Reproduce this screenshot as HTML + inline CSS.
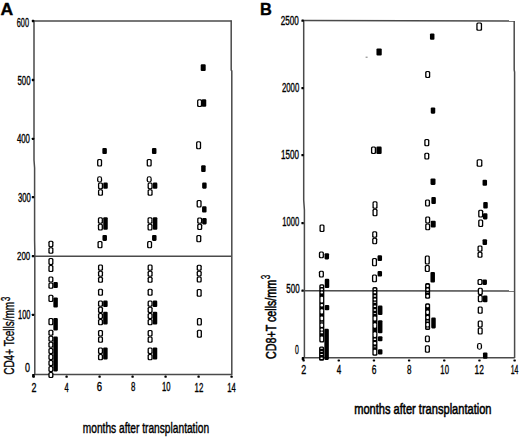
<!DOCTYPE html>
<html><head><meta charset="utf-8"><style>
html,body{margin:0;padding:0;background:#fff;}
body{width:520px;height:439px;overflow:hidden;}
svg{display:block;}
text{font-family:"Liberation Sans",sans-serif;}
</style></head><body>
<svg width="520" height="439" viewBox="0 0 520 439" font-family="Liberation Sans, sans-serif">
<rect x="0" y="0" width="520" height="439" fill="#fff"/>
<g stroke="#4a4a4a" stroke-width="1.5" fill="none">
<line x1="33.4" y1="21.0" x2="231.8" y2="21.0"/>
<polyline points="34.0,20.4 34.0,160 34.6,168 34.6,240 34.8,250 34.8,375"/>
<line x1="34" y1="374.4" x2="231.8" y2="374.4"/>
<polyline points="231.2,20.4 231.2,70 231.8,71 231.8,375"/>
<line x1="34" y1="256.2" x2="231.6" y2="256.2"/>
</g>
<rect x="31.80" y="19.85" width="2.4" height="2.3" rx="0.6" fill="#000"/>
<rect x="31.80" y="78.85" width="2.4" height="2.3" rx="0.6" fill="#000"/>
<rect x="31.80" y="137.65" width="2.4" height="2.3" rx="0.6" fill="#000"/>
<rect x="31.80" y="196.05" width="2.4" height="2.3" rx="0.6" fill="#000"/>
<rect x="31.80" y="255.05" width="2.4" height="2.3" rx="0.6" fill="#000"/>
<rect x="31.80" y="313.65" width="2.4" height="2.3" rx="0.6" fill="#000"/>
<rect x="32.10" y="374.00" width="2.6" height="3.2" rx="0.6" fill="#000"/>
<rect x="32.50" y="375.60" width="2.2" height="2.2" rx="0.6" fill="#000"/>
<rect x="65.50" y="375.60" width="2.2" height="2.2" rx="0.6" fill="#000"/>
<rect x="98.50" y="375.60" width="2.2" height="2.2" rx="0.6" fill="#000"/>
<rect x="131.50" y="375.60" width="2.2" height="2.2" rx="0.6" fill="#000"/>
<rect x="164.50" y="375.60" width="2.2" height="2.2" rx="0.6" fill="#000"/>
<rect x="197.50" y="375.60" width="2.2" height="2.2" rx="0.6" fill="#000"/>
<rect x="230.50" y="375.60" width="2.2" height="2.2" rx="0.6" fill="#000"/>
<g stroke="#4a4a4a" stroke-width="1.5" fill="none">
<line x1="302.5" y1="20.4" x2="514.6" y2="21.0"/>
<polyline points="303.7,20.4 303.7,200 304.4,210 304.4,358"/>
<line x1="303.5" y1="357.8" x2="514.8" y2="357.8"/>
<polyline points="514.2,21 514.2,70 514.6,72 514.6,358"/>
<line x1="304" y1="290.7" x2="514.4" y2="290.9"/>
</g>
<rect x="301.40" y="19.45" width="2.4" height="2.3" rx="0.6" fill="#000"/>
<rect x="301.40" y="86.95" width="2.4" height="2.3" rx="0.6" fill="#000"/>
<rect x="301.40" y="153.95" width="2.4" height="2.3" rx="0.6" fill="#000"/>
<rect x="301.40" y="221.95" width="2.4" height="2.3" rx="0.6" fill="#000"/>
<rect x="301.40" y="289.45" width="2.4" height="2.3" rx="0.6" fill="#000"/>
<rect x="301.70" y="357.10" width="2.6" height="3.0" rx="0.6" fill="#000"/>
<rect x="302.40" y="359.60" width="2.4" height="1.8" rx="0.6" fill="#000"/>
<rect x="337.57" y="359.60" width="2.4" height="1.8" rx="0.6" fill="#000"/>
<rect x="372.74" y="359.60" width="2.4" height="1.8" rx="0.6" fill="#000"/>
<rect x="407.91" y="359.60" width="2.4" height="1.8" rx="0.6" fill="#000"/>
<rect x="443.08" y="359.60" width="2.4" height="1.8" rx="0.6" fill="#000"/>
<rect x="478.25" y="359.60" width="2.4" height="1.8" rx="0.6" fill="#000"/>
<rect x="513.42" y="359.60" width="2.4" height="1.8" rx="0.6" fill="#000"/>
<g font-family="Liberation Sans, sans-serif" fill="#000">
<text transform="translate(0.47,14.86) scale(1.077,1)" font-size="16.32" font-weight="bold" stroke="#000" stroke-width="0.35">A</text>
<text transform="translate(259.95,14.90) scale(1.028,1)" font-size="15.94" font-weight="bold" stroke="#000" stroke-width="0.35">B</text>
<text transform="translate(16.78,26.53) scale(0.606,1)" font-size="12.11" font-weight="normal" stroke="#000" stroke-width="0.35">600</text>
<text transform="translate(17.44,84.93) scale(0.642,1)" font-size="12.25" font-weight="normal" stroke="#000" stroke-width="0.35">500</text>
<text transform="translate(16.89,143.23) scale(0.654,1)" font-size="11.97" font-weight="normal" stroke="#000" stroke-width="0.35">400</text>
<text transform="translate(17.94,201.53) scale(0.646,1)" font-size="11.97" font-weight="normal" stroke="#000" stroke-width="0.35">300</text>
<text transform="translate(17.05,260.03) scale(0.669,1)" font-size="11.83" font-weight="normal" stroke="#000" stroke-width="0.35">200</text>
<text transform="translate(18.05,318.63) scale(0.618,1)" font-size="12.11" font-weight="normal" stroke="#000" stroke-width="0.35">100</text>
<text transform="translate(24.99,371.63) scale(0.731,1)" font-size="12.25" font-weight="normal" stroke="#000" stroke-width="0.35">0</text>
<text transform="translate(31.50,391.55) scale(0.734,1)" font-size="12.14" font-weight="normal" stroke="#000" stroke-width="0.35">2</text>
<text transform="translate(64.50,391.68) scale(0.604,1)" font-size="12.50" font-weight="normal" stroke="#000" stroke-width="0.35">4</text>
<text transform="translate(96.87,391.43) scale(0.799,1)" font-size="11.97" font-weight="normal" stroke="#000" stroke-width="0.35">6</text>
<text transform="translate(131.04,391.43) scale(0.658,1)" font-size="11.97" font-weight="normal" stroke="#000" stroke-width="0.35">8</text>
<text transform="translate(162.04,391.43) scale(0.641,1)" font-size="11.97" font-weight="normal" stroke="#000" stroke-width="0.35">10</text>
<text transform="translate(194.62,391.55) scale(0.647,1)" font-size="12.14" font-weight="normal" stroke="#000" stroke-width="0.35">12</text>
<text transform="translate(227.33,391.55) scale(0.625,1)" font-size="12.32" font-weight="normal" stroke="#000" stroke-width="0.35">14</text>
<text transform="translate(280.74,24.73) scale(0.678,1)" font-size="11.97" font-weight="normal" stroke="#000" stroke-width="0.35">2500</text>
<text transform="translate(281.96,91.83) scale(0.643,1)" font-size="12.11" font-weight="normal" stroke="#000" stroke-width="0.35">2000</text>
<text transform="translate(281.00,159.13) scale(0.668,1)" font-size="12.11" font-weight="normal" stroke="#000" stroke-width="0.35">1500</text>
<text transform="translate(282.34,225.83) scale(0.629,1)" font-size="12.11" font-weight="normal" stroke="#000" stroke-width="0.35">1000</text>
<text transform="translate(286.33,292.83) scale(0.659,1)" font-size="12.11" font-weight="normal" stroke="#000" stroke-width="0.35">500</text>
<text transform="translate(295.08,354.33) scale(0.574,1)" font-size="11.97" font-weight="normal" stroke="#000" stroke-width="0.35">0</text>
<text transform="translate(301.30,373.75) scale(0.725,1)" font-size="12.29" font-weight="normal" stroke="#000" stroke-width="0.35">2</text>
<text transform="translate(336.79,373.88) scale(0.636,1)" font-size="12.65" font-weight="normal" stroke="#000" stroke-width="0.35">4</text>
<text transform="translate(371.63,373.63) scale(0.700,1)" font-size="12.11" font-weight="normal" stroke="#000" stroke-width="0.35">6</text>
<text transform="translate(407.03,373.63) scale(0.667,1)" font-size="12.11" font-weight="normal" stroke="#000" stroke-width="0.35">8</text>
<text transform="translate(440.33,373.63) scale(0.642,1)" font-size="12.11" font-weight="normal" stroke="#000" stroke-width="0.35">10</text>
<text transform="translate(474.58,373.75) scale(0.681,1)" font-size="12.29" font-weight="normal" stroke="#000" stroke-width="0.35">12</text>
<text transform="translate(510.70,373.75) scale(0.554,1)" font-size="12.46" font-weight="normal" stroke="#000" stroke-width="0.35">14</text>
<text transform="translate(82.79,433.40) scale(0.676,1)" font-size="15.07" font-weight="normal" stroke="#000" stroke-width="0.45">months after transplantation</text>
<text transform="translate(354.22,413.90) scale(0.716,1)" font-size="15.48" font-weight="normal" stroke="#000" stroke-width="0.6">months after transplantation</text>
<text transform="translate(14.47,374.85) rotate(-90) scale(0.652,1)" font-size="15.38" font-weight="normal" stroke="#000" stroke-width="0.35">CD4+ Tcells/mm</text>
<g>
<text transform="translate(9.88,300.96) rotate(-90) scale(0.615,1)" font-size="12.46" font-weight="normal" stroke="#000" stroke-width="0.35">3</text>
<text transform="translate(275.98,358.99) rotate(-90) scale(0.709,1)" font-size="15.10" font-weight="normal" stroke="#000" stroke-width="0.55">CD8+T cells/mm</text>
<text transform="translate(270.07,279.17) rotate(-90) scale(0.600,1)" font-size="13.46" font-weight="normal" stroke="#000" stroke-width="0.35">3</text>
</g>
</g>
<rect x="48.35" y="240.80" width="5.10" height="6.50" rx="1.5" fill="#000"/>
<rect x="48.35" y="247.30" width="5.10" height="6.50" rx="1.5" fill="#000"/>
<rect x="49.65" y="241.80" width="2.50" height="4.50" rx="1.00" fill="#fff"/>
<rect x="49.65" y="248.30" width="2.50" height="4.50" rx="1.00" fill="#fff"/>
<rect x="48.35" y="257.90" width="5.10" height="7.05" rx="1.5" fill="#000"/>
<rect x="48.35" y="264.95" width="5.10" height="7.05" rx="1.5" fill="#000"/>
<rect x="49.65" y="258.90" width="2.50" height="5.05" rx="1.00" fill="#fff"/>
<rect x="49.65" y="265.95" width="2.50" height="5.05" rx="1.00" fill="#fff"/>
<rect x="48.35" y="276.40" width="5.10" height="6.15" rx="1.5" fill="#000"/>
<rect x="48.35" y="282.55" width="5.10" height="6.15" rx="1.5" fill="#000"/>
<rect x="49.65" y="277.40" width="2.50" height="4.15" rx="1.00" fill="#fff"/>
<rect x="49.65" y="283.55" width="2.50" height="4.15" rx="1.00" fill="#fff"/>
<rect x="48.35" y="294.70" width="5.10" height="7.40" rx="1.5" fill="#000"/>
<rect x="49.65" y="295.70" width="2.50" height="5.40" rx="1.00" fill="#fff"/>
<rect x="48.35" y="318.00" width="5.10" height="7.30" rx="1.5" fill="#000"/>
<rect x="49.65" y="319.00" width="2.50" height="5.30" rx="1.00" fill="#fff"/>
<rect x="48.35" y="329.80" width="5.10" height="6.02" rx="1.5" fill="#000"/>
<rect x="48.35" y="335.82" width="5.10" height="6.02" rx="1.5" fill="#000"/>
<rect x="48.35" y="341.85" width="5.10" height="6.02" rx="1.5" fill="#000"/>
<rect x="48.35" y="347.88" width="5.10" height="6.02" rx="1.5" fill="#000"/>
<rect x="48.35" y="353.90" width="5.10" height="6.02" rx="1.5" fill="#000"/>
<rect x="48.35" y="359.93" width="5.10" height="6.02" rx="1.5" fill="#000"/>
<rect x="48.35" y="365.95" width="5.10" height="6.02" rx="1.5" fill="#000"/>
<rect x="48.35" y="371.98" width="5.10" height="6.02" rx="1.5" fill="#000"/>
<rect x="49.65" y="330.80" width="2.50" height="4.02" rx="1.00" fill="#fff"/>
<rect x="49.65" y="336.82" width="2.50" height="4.03" rx="1.00" fill="#fff"/>
<rect x="49.65" y="342.85" width="2.50" height="4.02" rx="1.00" fill="#fff"/>
<rect x="49.65" y="348.88" width="2.50" height="4.02" rx="1.00" fill="#fff"/>
<rect x="49.65" y="354.90" width="2.50" height="4.03" rx="1.00" fill="#fff"/>
<rect x="49.65" y="360.93" width="2.50" height="4.02" rx="1.00" fill="#fff"/>
<rect x="49.65" y="366.95" width="2.50" height="4.03" rx="1.00" fill="#fff"/>
<rect x="49.65" y="372.98" width="2.50" height="4.02" rx="1.00" fill="#fff"/>
<rect x="53.35" y="281.90" width="4.50" height="6.10" rx="1.1" fill="#000"/>
<rect x="53.35" y="297.50" width="4.50" height="10.10" rx="1.1" fill="#000"/>
<rect x="53.35" y="318.00" width="4.50" height="12.60" rx="1.1" fill="#000"/>
<rect x="53.35" y="336.60" width="4.50" height="34.80" rx="1.1" fill="#000"/>
<rect x="97.05" y="159.00" width="5.10" height="7.60" rx="1.5" fill="#000"/>
<rect x="98.35" y="160.00" width="2.50" height="5.60" rx="1.00" fill="#fff"/>
<rect x="97.05" y="176.30" width="5.10" height="6.30" rx="2.4" fill="#000"/>
<rect x="98.35" y="177.30" width="2.50" height="4.30" rx="1.00" fill="#fff"/>
<rect x="97.95" y="182.60" width="5.10" height="6.55" rx="1.5" fill="#000"/>
<rect x="97.95" y="189.15" width="5.10" height="6.55" rx="1.5" fill="#000"/>
<rect x="99.25" y="183.60" width="2.50" height="4.55" rx="1.00" fill="#fff"/>
<rect x="99.25" y="190.15" width="2.50" height="4.55" rx="1.00" fill="#fff"/>
<rect x="97.85" y="217.20" width="5.10" height="6.65" rx="1.5" fill="#000"/>
<rect x="97.85" y="223.85" width="5.10" height="6.65" rx="1.5" fill="#000"/>
<rect x="99.15" y="218.20" width="2.50" height="4.65" rx="1.00" fill="#fff"/>
<rect x="99.15" y="224.85" width="2.50" height="4.65" rx="1.00" fill="#fff"/>
<rect x="97.45" y="240.90" width="5.10" height="7.40" rx="1.5" fill="#000"/>
<rect x="98.75" y="241.90" width="2.50" height="5.40" rx="1.00" fill="#fff"/>
<rect x="97.95" y="264.60" width="5.10" height="6.07" rx="1.5" fill="#000"/>
<rect x="97.95" y="270.67" width="5.10" height="6.07" rx="1.5" fill="#000"/>
<rect x="97.95" y="276.73" width="5.10" height="6.07" rx="1.5" fill="#000"/>
<rect x="99.25" y="265.60" width="2.50" height="4.07" rx="1.00" fill="#fff"/>
<rect x="99.25" y="271.67" width="2.50" height="4.07" rx="1.00" fill="#fff"/>
<rect x="99.25" y="277.73" width="2.50" height="4.07" rx="1.00" fill="#fff"/>
<rect x="97.95" y="288.70" width="5.10" height="7.00" rx="1.5" fill="#000"/>
<rect x="99.25" y="289.70" width="2.50" height="5.00" rx="1.00" fill="#fff"/>
<rect x="97.95" y="300.60" width="5.10" height="6.17" rx="1.5" fill="#000"/>
<rect x="97.95" y="306.78" width="5.10" height="6.17" rx="1.5" fill="#000"/>
<rect x="97.95" y="312.95" width="5.10" height="6.17" rx="1.5" fill="#000"/>
<rect x="97.95" y="319.12" width="5.10" height="6.17" rx="1.5" fill="#000"/>
<rect x="99.25" y="301.60" width="2.50" height="4.18" rx="1.00" fill="#fff"/>
<rect x="99.25" y="307.78" width="2.50" height="4.18" rx="1.00" fill="#fff"/>
<rect x="99.25" y="313.95" width="2.50" height="4.17" rx="1.00" fill="#fff"/>
<rect x="99.25" y="320.12" width="2.50" height="4.18" rx="1.00" fill="#fff"/>
<rect x="97.95" y="330.00" width="5.10" height="6.40" rx="1.5" fill="#000"/>
<rect x="97.95" y="336.40" width="5.10" height="6.40" rx="1.5" fill="#000"/>
<rect x="99.25" y="331.00" width="2.50" height="4.40" rx="1.00" fill="#fff"/>
<rect x="99.25" y="337.40" width="2.50" height="4.40" rx="1.00" fill="#fff"/>
<rect x="97.95" y="347.50" width="5.10" height="6.40" rx="1.5" fill="#000"/>
<rect x="97.95" y="353.90" width="5.10" height="6.40" rx="1.5" fill="#000"/>
<rect x="99.25" y="348.50" width="2.50" height="4.40" rx="1.00" fill="#fff"/>
<rect x="99.25" y="354.90" width="2.50" height="4.40" rx="1.00" fill="#fff"/>
<rect x="102.35" y="147.90" width="4.50" height="6.10" rx="1.1" fill="#000"/>
<rect x="103.25" y="182.60" width="4.50" height="6.20" rx="1.1" fill="#000"/>
<rect x="103.25" y="217.20" width="4.50" height="12.60" rx="1.1" fill="#000"/>
<rect x="102.45" y="235.00" width="4.50" height="5.90" rx="1.1" fill="#000"/>
<rect x="103.15" y="300.60" width="4.50" height="6.40" rx="1.1" fill="#000"/>
<rect x="103.15" y="311.70" width="4.50" height="12.80" rx="1.1" fill="#000"/>
<rect x="103.15" y="347.50" width="4.50" height="12.00" rx="1.1" fill="#000"/>
<rect x="146.65" y="159.00" width="5.10" height="7.60" rx="1.5" fill="#000"/>
<rect x="147.95" y="160.00" width="2.50" height="5.60" rx="1.00" fill="#fff"/>
<rect x="146.65" y="176.30" width="5.10" height="6.30" rx="2.4" fill="#000"/>
<rect x="147.95" y="177.30" width="2.50" height="4.30" rx="1.00" fill="#fff"/>
<rect x="147.55" y="182.60" width="5.10" height="6.55" rx="1.5" fill="#000"/>
<rect x="147.55" y="189.15" width="5.10" height="6.55" rx="1.5" fill="#000"/>
<rect x="148.85" y="183.60" width="2.50" height="4.55" rx="1.00" fill="#fff"/>
<rect x="148.85" y="190.15" width="2.50" height="4.55" rx="1.00" fill="#fff"/>
<rect x="147.45" y="217.20" width="5.10" height="6.65" rx="1.5" fill="#000"/>
<rect x="147.45" y="223.85" width="5.10" height="6.65" rx="1.5" fill="#000"/>
<rect x="148.75" y="218.20" width="2.50" height="4.65" rx="1.00" fill="#fff"/>
<rect x="148.75" y="224.85" width="2.50" height="4.65" rx="1.00" fill="#fff"/>
<rect x="147.05" y="240.90" width="5.10" height="7.40" rx="1.5" fill="#000"/>
<rect x="148.35" y="241.90" width="2.50" height="5.40" rx="1.00" fill="#fff"/>
<rect x="147.55" y="264.60" width="5.10" height="6.07" rx="1.5" fill="#000"/>
<rect x="147.55" y="270.67" width="5.10" height="6.07" rx="1.5" fill="#000"/>
<rect x="147.55" y="276.73" width="5.10" height="6.07" rx="1.5" fill="#000"/>
<rect x="148.85" y="265.60" width="2.50" height="4.07" rx="1.00" fill="#fff"/>
<rect x="148.85" y="271.67" width="2.50" height="4.07" rx="1.00" fill="#fff"/>
<rect x="148.85" y="277.73" width="2.50" height="4.07" rx="1.00" fill="#fff"/>
<rect x="147.55" y="288.70" width="5.10" height="7.00" rx="1.5" fill="#000"/>
<rect x="148.85" y="289.70" width="2.50" height="5.00" rx="1.00" fill="#fff"/>
<rect x="147.55" y="300.60" width="5.10" height="6.17" rx="1.5" fill="#000"/>
<rect x="147.55" y="306.78" width="5.10" height="6.17" rx="1.5" fill="#000"/>
<rect x="147.55" y="312.95" width="5.10" height="6.17" rx="1.5" fill="#000"/>
<rect x="147.55" y="319.12" width="5.10" height="6.17" rx="1.5" fill="#000"/>
<rect x="148.85" y="301.60" width="2.50" height="4.18" rx="1.00" fill="#fff"/>
<rect x="148.85" y="307.78" width="2.50" height="4.18" rx="1.00" fill="#fff"/>
<rect x="148.85" y="313.95" width="2.50" height="4.17" rx="1.00" fill="#fff"/>
<rect x="148.85" y="320.12" width="2.50" height="4.18" rx="1.00" fill="#fff"/>
<rect x="147.55" y="330.00" width="5.10" height="6.40" rx="1.5" fill="#000"/>
<rect x="147.55" y="336.40" width="5.10" height="6.40" rx="1.5" fill="#000"/>
<rect x="148.85" y="331.00" width="2.50" height="4.40" rx="1.00" fill="#fff"/>
<rect x="148.85" y="337.40" width="2.50" height="4.40" rx="1.00" fill="#fff"/>
<rect x="147.55" y="347.50" width="5.10" height="6.40" rx="1.5" fill="#000"/>
<rect x="147.55" y="353.90" width="5.10" height="6.40" rx="1.5" fill="#000"/>
<rect x="148.85" y="348.50" width="2.50" height="4.40" rx="1.00" fill="#fff"/>
<rect x="148.85" y="354.90" width="2.50" height="4.40" rx="1.00" fill="#fff"/>
<rect x="151.95" y="147.90" width="4.50" height="6.10" rx="1.1" fill="#000"/>
<rect x="152.85" y="182.60" width="4.50" height="6.20" rx="1.1" fill="#000"/>
<rect x="152.85" y="217.20" width="4.50" height="12.60" rx="1.1" fill="#000"/>
<rect x="152.05" y="235.00" width="4.50" height="5.90" rx="1.1" fill="#000"/>
<rect x="152.75" y="300.60" width="4.50" height="6.40" rx="1.1" fill="#000"/>
<rect x="152.75" y="311.70" width="4.50" height="12.80" rx="1.1" fill="#000"/>
<rect x="152.75" y="347.50" width="4.50" height="12.00" rx="1.1" fill="#000"/>
<rect x="197.05" y="99.20" width="5.10" height="7.90" rx="1.5" fill="#000"/>
<rect x="198.35" y="100.20" width="2.50" height="5.90" rx="1.00" fill="#fff"/>
<rect x="196.05" y="141.20" width="5.10" height="8.00" rx="1.5" fill="#000"/>
<rect x="197.35" y="142.20" width="2.50" height="6.00" rx="1.00" fill="#fff"/>
<rect x="196.55" y="200.00" width="5.10" height="7.50" rx="1.5" fill="#000"/>
<rect x="197.85" y="201.00" width="2.50" height="5.50" rx="1.00" fill="#fff"/>
<rect x="197.15" y="217.50" width="5.10" height="6.25" rx="1.5" fill="#000"/>
<rect x="197.15" y="223.75" width="5.10" height="6.25" rx="1.5" fill="#000"/>
<rect x="198.45" y="218.50" width="2.50" height="4.25" rx="1.00" fill="#fff"/>
<rect x="198.45" y="224.75" width="2.50" height="4.25" rx="1.00" fill="#fff"/>
<rect x="196.25" y="235.00" width="5.10" height="7.30" rx="1.5" fill="#000"/>
<rect x="197.55" y="236.00" width="2.50" height="5.30" rx="1.00" fill="#fff"/>
<rect x="196.65" y="264.70" width="5.10" height="5.93" rx="1.5" fill="#000"/>
<rect x="196.65" y="270.63" width="5.10" height="5.93" rx="1.5" fill="#000"/>
<rect x="196.65" y="276.57" width="5.10" height="5.93" rx="1.5" fill="#000"/>
<rect x="197.95" y="265.70" width="2.50" height="3.93" rx="1.00" fill="#fff"/>
<rect x="197.95" y="271.63" width="2.50" height="3.93" rx="1.00" fill="#fff"/>
<rect x="197.95" y="277.57" width="2.50" height="3.93" rx="1.00" fill="#fff"/>
<rect x="196.65" y="288.90" width="5.10" height="7.80" rx="1.5" fill="#000"/>
<rect x="197.95" y="289.90" width="2.50" height="5.80" rx="1.00" fill="#fff"/>
<rect x="196.85" y="317.90" width="5.10" height="7.70" rx="1.5" fill="#000"/>
<rect x="198.15" y="318.90" width="2.50" height="5.70" rx="1.00" fill="#fff"/>
<rect x="196.85" y="329.70" width="5.10" height="8.00" rx="1.5" fill="#000"/>
<rect x="198.15" y="330.70" width="2.50" height="6.00" rx="1.00" fill="#fff"/>
<rect x="200.70" y="64.30" width="5.00" height="6.80" rx="1.1" fill="#000"/>
<rect x="201.75" y="99.30" width="4.50" height="7.50" rx="1.1" fill="#000"/>
<rect x="201.15" y="165.20" width="4.50" height="6.90" rx="1.1" fill="#000"/>
<rect x="202.15" y="182.60" width="4.50" height="6.10" rx="1.1" fill="#000"/>
<rect x="202.05" y="206.30" width="4.50" height="6.20" rx="1.1" fill="#000"/>
<rect x="202.15" y="218.10" width="4.50" height="6.30" rx="1.1" fill="#000"/>
<rect x="319.45" y="224.50" width="5.10" height="7.50" rx="1.5" fill="#000"/>
<rect x="320.75" y="225.50" width="2.50" height="5.50" rx="1.00" fill="#fff"/>
<rect x="318.85" y="251.50" width="5.10" height="6.80" rx="1.5" fill="#000"/>
<rect x="320.15" y="252.50" width="2.50" height="4.80" rx="1.00" fill="#fff"/>
<rect x="318.85" y="270.70" width="5.10" height="6.70" rx="1.5" fill="#000"/>
<rect x="320.15" y="271.70" width="2.50" height="4.70" rx="1.00" fill="#fff"/>
<rect x="319.25" y="284.20" width="5.10" height="58.30" rx="1.5" fill="#000"/>
<rect x="320.55" y="285.40" width="2.50" height="1.70" rx="0.85" fill="#fff"/>
<rect x="320.55" y="288.50" width="2.50" height="1.70" rx="0.85" fill="#fff"/>
<rect x="320.55" y="291.60" width="2.50" height="2.00" rx="1.00" fill="#fff"/>
<rect x="320.55" y="296.70" width="2.50" height="5.80" rx="1.00" fill="#fff"/>
<rect x="320.55" y="303.90" width="2.50" height="2.70" rx="1.00" fill="#fff"/>
<rect x="320.55" y="309.30" width="2.50" height="4.20" rx="1.00" fill="#fff"/>
<rect x="320.55" y="316.40" width="2.50" height="3.80" rx="1.00" fill="#fff"/>
<rect x="320.55" y="321.70" width="2.50" height="0.50" rx="0.25" fill="#fff"/>
<rect x="320.55" y="323.60" width="2.50" height="3.40" rx="1.00" fill="#fff"/>
<rect x="320.55" y="328.60" width="2.50" height="2.10" rx="1.00" fill="#fff"/>
<rect x="320.55" y="331.60" width="2.50" height="1.70" rx="0.85" fill="#fff"/>
<rect x="320.55" y="336.60" width="2.50" height="4.60" rx="1.00" fill="#fff"/>
<rect x="319.05" y="346.60" width="5.10" height="14.20" rx="1.5" fill="#000"/>
<rect x="320.35" y="347.70" width="2.50" height="1.10" rx="0.55" fill="#fff"/>
<rect x="320.35" y="350.90" width="2.50" height="0.90" rx="0.45" fill="#fff"/>
<rect x="320.35" y="354.00" width="2.50" height="1.00" rx="0.50" fill="#fff"/>
<rect x="320.35" y="357.50" width="2.50" height="1.40" rx="0.70" fill="#fff"/>
<rect x="324.55" y="253.20" width="4.50" height="6.20" rx="1.1" fill="#000"/>
<rect x="324.75" y="278.80" width="4.50" height="9.30" rx="1.1" fill="#000"/>
<rect x="324.75" y="304.90" width="4.50" height="5.40" rx="1.1" fill="#000"/>
<rect x="324.35" y="328.80" width="4.50" height="31.10" rx="1.1" fill="#000"/>
<rect x="370.95" y="146.60" width="5.10" height="7.40" rx="1.5" fill="#000"/>
<rect x="372.25" y="147.60" width="2.50" height="5.40" rx="1.00" fill="#fff"/>
<rect x="372.45" y="201.20" width="5.10" height="7.50" rx="1.5" fill="#000"/>
<rect x="372.45" y="208.70" width="5.10" height="7.50" rx="1.5" fill="#000"/>
<rect x="373.75" y="202.20" width="2.50" height="5.50" rx="1.00" fill="#fff"/>
<rect x="373.75" y="209.70" width="2.50" height="5.50" rx="1.00" fill="#fff"/>
<rect x="372.15" y="231.30" width="5.10" height="6.45" rx="1.5" fill="#000"/>
<rect x="372.15" y="237.75" width="5.10" height="6.45" rx="1.5" fill="#000"/>
<rect x="373.45" y="232.30" width="2.50" height="4.45" rx="1.00" fill="#fff"/>
<rect x="373.45" y="238.75" width="2.50" height="4.45" rx="1.00" fill="#fff"/>
<rect x="371.95" y="258.00" width="5.10" height="8.20" rx="1.5" fill="#000"/>
<rect x="373.25" y="259.00" width="2.50" height="6.20" rx="1.00" fill="#fff"/>
<rect x="371.95" y="274.40" width="5.10" height="7.80" rx="1.5" fill="#000"/>
<rect x="373.25" y="275.40" width="2.50" height="5.80" rx="1.00" fill="#fff"/>
<rect x="372.35" y="287.10" width="5.10" height="68.60" rx="1.5" fill="#000"/>
<rect x="373.65" y="288.50" width="2.50" height="1.40" rx="0.70" fill="#fff"/>
<rect x="373.65" y="291.60" width="2.50" height="1.70" rx="0.85" fill="#fff"/>
<rect x="373.65" y="295.30" width="2.50" height="1.40" rx="0.70" fill="#fff"/>
<rect x="373.65" y="298.40" width="2.50" height="2.00" rx="1.00" fill="#fff"/>
<rect x="373.65" y="301.80" width="2.50" height="1.00" rx="0.50" fill="#fff"/>
<rect x="373.65" y="305.60" width="2.50" height="1.30" rx="0.65" fill="#fff"/>
<rect x="373.65" y="309.30" width="2.50" height="1.40" rx="0.70" fill="#fff"/>
<rect x="373.65" y="313.00" width="2.50" height="0.80" rx="0.40" fill="#fff"/>
<rect x="373.65" y="316.40" width="2.50" height="4.10" rx="1.00" fill="#fff"/>
<rect x="373.65" y="323.20" width="2.50" height="4.60" rx="1.00" fill="#fff"/>
<rect x="373.65" y="332.20" width="2.50" height="4.80" rx="1.00" fill="#fff"/>
<rect x="373.65" y="338.50" width="2.50" height="1.60" rx="0.80" fill="#fff"/>
<rect x="373.65" y="342.10" width="2.50" height="2.40" rx="1.00" fill="#fff"/>
<rect x="373.65" y="346.50" width="2.50" height="0.80" rx="0.40" fill="#fff"/>
<rect x="373.65" y="349.70" width="2.50" height="4.70" rx="1.00" fill="#fff"/>
<rect x="376.45" y="48.40" width="5.30" height="7.10" rx="1.1" fill="#000"/>
<rect x="376.35" y="146.60" width="5.30" height="7.40" rx="1.1" fill="#000"/>
<rect x="377.55" y="255.30" width="4.50" height="5.80" rx="1.1" fill="#000"/>
<rect x="377.55" y="271.00" width="4.50" height="5.50" rx="1.1" fill="#000"/>
<rect x="377.95" y="305.60" width="4.50" height="9.40" rx="1.1" fill="#000"/>
<rect x="377.95" y="320.20" width="4.50" height="13.10" rx="1.1" fill="#000"/>
<rect x="377.95" y="336.20" width="4.50" height="5.10" rx="1.1" fill="#000"/>
<rect x="377.95" y="349.30" width="4.50" height="5.20" rx="1.1" fill="#000"/>
<rect x="425.15" y="70.90" width="5.10" height="7.20" rx="1.5" fill="#000"/>
<rect x="426.45" y="71.90" width="2.50" height="5.20" rx="1.00" fill="#fff"/>
<rect x="424.25" y="139.00" width="5.10" height="7.20" rx="1.5" fill="#000"/>
<rect x="425.55" y="140.00" width="2.50" height="5.20" rx="1.00" fill="#fff"/>
<rect x="424.25" y="152.70" width="5.10" height="6.80" rx="1.5" fill="#000"/>
<rect x="425.55" y="153.70" width="2.50" height="4.80" rx="1.00" fill="#fff"/>
<rect x="424.95" y="199.40" width="5.10" height="7.10" rx="1.5" fill="#000"/>
<rect x="426.25" y="200.40" width="2.50" height="5.10" rx="1.00" fill="#fff"/>
<rect x="425.15" y="216.60" width="5.10" height="6.80" rx="1.5" fill="#000"/>
<rect x="425.15" y="223.40" width="5.10" height="6.80" rx="1.5" fill="#000"/>
<rect x="426.45" y="217.60" width="2.50" height="4.80" rx="1.00" fill="#fff"/>
<rect x="426.45" y="224.40" width="2.50" height="4.80" rx="1.00" fill="#fff"/>
<rect x="424.75" y="255.50" width="5.10" height="8.90" rx="1.5" fill="#000"/>
<rect x="426.05" y="256.50" width="2.50" height="6.90" rx="1.00" fill="#fff"/>
<rect x="424.75" y="265.00" width="5.10" height="6.90" rx="1.5" fill="#000"/>
<rect x="426.05" y="266.00" width="2.50" height="4.90" rx="1.00" fill="#fff"/>
<rect x="425.05" y="283.10" width="5.10" height="15.70" rx="1.5" fill="#000"/>
<rect x="426.35" y="284.80" width="2.50" height="2.20" rx="1.00" fill="#fff"/>
<rect x="426.35" y="288.60" width="2.50" height="2.20" rx="1.00" fill="#fff"/>
<rect x="426.35" y="291.90" width="2.50" height="0.70" rx="0.35" fill="#fff"/>
<rect x="426.35" y="294.80" width="2.50" height="2.60" rx="1.00" fill="#fff"/>
<rect x="425.05" y="303.20" width="5.10" height="26.90" rx="1.5" fill="#000"/>
<rect x="426.35" y="304.80" width="2.50" height="2.40" rx="1.00" fill="#fff"/>
<rect x="426.35" y="310.50" width="2.50" height="3.50" rx="1.00" fill="#fff"/>
<rect x="426.35" y="316.10" width="2.50" height="2.90" rx="1.00" fill="#fff"/>
<rect x="426.35" y="320.60" width="2.50" height="0.80" rx="0.40" fill="#fff"/>
<rect x="426.35" y="323.00" width="2.50" height="3.60" rx="1.00" fill="#fff"/>
<rect x="426.35" y="327.60" width="2.50" height="1.00" rx="0.50" fill="#fff"/>
<rect x="424.85" y="335.60" width="5.10" height="6.70" rx="1.5" fill="#000"/>
<rect x="426.15" y="336.60" width="2.50" height="4.70" rx="1.00" fill="#fff"/>
<rect x="424.85" y="345.30" width="5.10" height="7.40" rx="1.5" fill="#000"/>
<rect x="426.15" y="346.30" width="2.50" height="5.40" rx="1.00" fill="#fff"/>
<rect x="429.95" y="33.40" width="4.50" height="6.40" rx="1.1" fill="#000"/>
<rect x="430.75" y="107.50" width="4.50" height="6.20" rx="1.1" fill="#000"/>
<rect x="430.50" y="178.50" width="5.00" height="6.40" rx="1.1" fill="#000"/>
<rect x="431.35" y="196.90" width="4.50" height="7.10" rx="1.1" fill="#000"/>
<rect x="430.70" y="220.70" width="5.00" height="6.80" rx="1.1" fill="#000"/>
<rect x="430.45" y="271.90" width="4.50" height="10.70" rx="1.1" fill="#000"/>
<rect x="431.25" y="317.60" width="4.50" height="10.80" rx="1.1" fill="#000"/>
<rect x="365.6" y="56.6" width="2" height="1.3" fill="#999"/>
<rect x="476.30" y="22.50" width="5.80" height="8.20" rx="1.5" fill="#000"/>
<rect x="477.60" y="23.50" width="3.20" height="6.20" rx="1.00" fill="#fff"/>
<rect x="476.60" y="159.20" width="5.80" height="7.50" rx="1.5" fill="#000"/>
<rect x="477.90" y="160.20" width="3.20" height="5.50" rx="1.00" fill="#fff"/>
<rect x="478.15" y="209.80" width="5.10" height="7.60" rx="1.5" fill="#000"/>
<rect x="479.45" y="210.80" width="2.50" height="5.60" rx="1.00" fill="#fff"/>
<rect x="478.15" y="219.40" width="5.10" height="7.60" rx="1.5" fill="#000"/>
<rect x="479.45" y="220.40" width="2.50" height="5.60" rx="1.00" fill="#fff"/>
<rect x="477.45" y="245.50" width="5.10" height="6.15" rx="1.5" fill="#000"/>
<rect x="477.45" y="251.65" width="5.10" height="6.15" rx="1.5" fill="#000"/>
<rect x="478.75" y="246.50" width="2.50" height="4.15" rx="1.00" fill="#fff"/>
<rect x="478.75" y="252.65" width="2.50" height="4.15" rx="1.00" fill="#fff"/>
<rect x="477.45" y="279.00" width="5.10" height="6.10" rx="1.5" fill="#000"/>
<rect x="478.75" y="280.00" width="2.50" height="4.10" rx="1.00" fill="#fff"/>
<rect x="477.75" y="287.70" width="5.10" height="7.30" rx="1.5" fill="#000"/>
<rect x="477.75" y="295.00" width="5.10" height="7.30" rx="1.5" fill="#000"/>
<rect x="479.05" y="288.70" width="2.50" height="5.30" rx="1.00" fill="#fff"/>
<rect x="479.05" y="296.00" width="2.50" height="5.30" rx="1.00" fill="#fff"/>
<rect x="477.65" y="306.50" width="5.10" height="7.30" rx="1.5" fill="#000"/>
<rect x="478.95" y="307.50" width="2.50" height="5.30" rx="1.00" fill="#fff"/>
<rect x="477.65" y="320.50" width="5.10" height="7.05" rx="1.5" fill="#000"/>
<rect x="477.65" y="327.55" width="5.10" height="7.05" rx="1.5" fill="#000"/>
<rect x="478.95" y="321.50" width="2.50" height="5.05" rx="1.00" fill="#fff"/>
<rect x="478.95" y="328.55" width="2.50" height="5.05" rx="1.00" fill="#fff"/>
<rect x="476.95" y="343.00" width="5.10" height="6.70" rx="2.4" fill="#000"/>
<rect x="478.25" y="344.00" width="2.50" height="4.70" rx="1.00" fill="#fff"/>
<rect x="482.55" y="179.70" width="4.50" height="6.10" rx="1.1" fill="#000"/>
<rect x="483.25" y="202.00" width="4.50" height="6.50" rx="1.1" fill="#000"/>
<rect x="482.95" y="213.30" width="4.50" height="6.10" rx="1.1" fill="#000"/>
<rect x="482.55" y="239.20" width="4.50" height="5.80" rx="1.1" fill="#000"/>
<rect x="482.45" y="279.50" width="4.50" height="5.40" rx="1.1" fill="#000"/>
<rect x="482.95" y="295.60" width="4.50" height="6.70" rx="1.1" fill="#000"/>
<rect x="482.95" y="352.40" width="4.50" height="6.40" rx="1.1" fill="#000"/>
</svg>
</body></html>
